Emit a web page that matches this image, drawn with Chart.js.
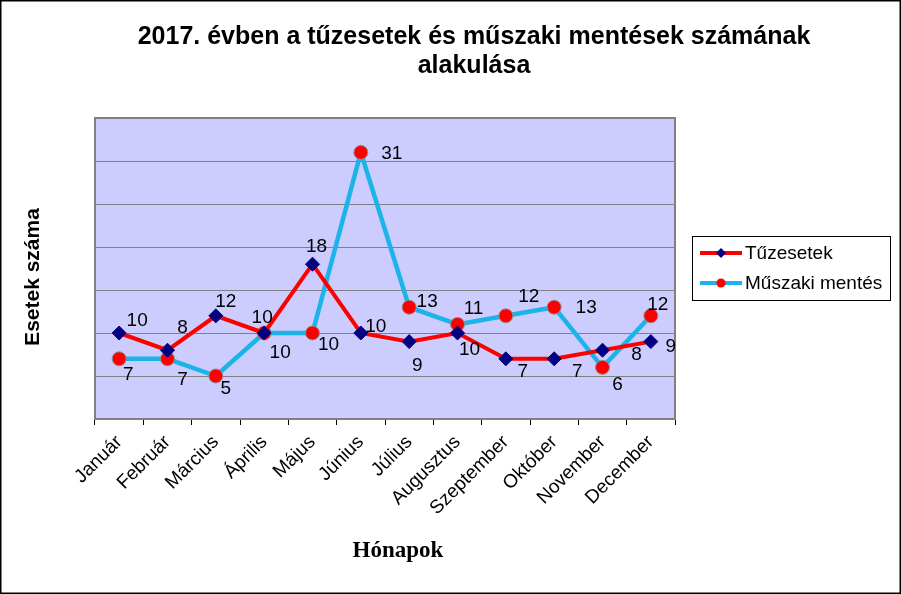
<!DOCTYPE html>
<html>
<head>
<meta charset="utf-8">
<script src="https://cdn.jsdelivr.net/npm/chart.js@4"></script>
<style>
    body { margin: 0; background: #fff; }
    canvas { display: block; }
</style>
</head>
<body>
<canvas id="myChart" width="901" height="594"></canvas>
<script>
// data
const months = ["Január", "Február", "Március", "Április", "Május", "Június",
    "Július", "Augusztus", "Szeptember", "Október", "November", "December"];
const fires = [10, 8, 12, 10, 18, 10, 9, 10, 7, 7, 8, 9];
const rescues = [7, 7, 5, 10, 10, 31, 13, 11, 12, 13, 6, 12];
const seriesNames = ["Tűzesetek", "Műszaki mentés"];
const yTicks = [0, 5, 10, 15, 20, 25, 30, 35];

const chartTitle = ["2017. évben a tűzesetek és műszaki mentések számának", "alakulása"];
const xTitle = "Hónapok";
const yTitle = "Esetek száma";

// where each value label sits relative to its point (dx, dy)
const fireLabelPos = [[18,-12],[15,-22],[10,-14],[-2,-15],[4,-17],[15,-6],[8,24],[12,17],[17,13],[23,13],[34,5],[20,5]];
const rescueLabelPos = [[9,16],[15,21],[10,13],[16,20],[16,12],[31,1],[18,-5],[16,-16],[23,-19],[32,1],[15,17],[7,-11]];

const fireColor = "#ff0000";
const rescueColor = "#1cb4e8";
const sans = "'Liberation Sans', Arial, sans-serif";

// background, plot frame, title, axis titles, legend, value labels
const decorations = {
    id: "decorations",
    beforeDraw(chart) {
        const ctx = chart.ctx;
        const a = chart.chartArea;
        ctx.save();
        ctx.fillStyle = "#ffffff";
        ctx.fillRect(0, 0, chart.width, chart.height);
        ctx.fillStyle = "#ccccff";
        ctx.fillRect(a.left, a.top, a.right - a.left, a.bottom - a.top);
        ctx.restore();
    },
    beforeDatasetsDraw(chart) {
        const ctx = chart.ctx;
        const a = chart.chartArea;
        ctx.save();
        ctx.strokeStyle = "#808080";
        ctx.lineWidth = 2;
        ctx.strokeRect(a.left, a.top, a.right - a.left, a.bottom - a.top);
        ctx.restore();
    },
    afterDatasetsDraw(chart) {
        const ctx = chart.ctx;
        ctx.save();
        ctx.font = "19px " + sans;
        ctx.fillStyle = "#000";
        ctx.textAlign = "center";
        ctx.textBaseline = "middle";
        const offsets = [fireLabelPos, rescueLabelPos];
        chart.data.datasets.forEach((ds, d) => {
            const meta = chart.getDatasetMeta(d);
            meta.data.forEach((pt, i) => {
                ctx.fillText(ds.data[i], pt.x + offsets[d][i][0], pt.y + offsets[d][i][1]);
            });
        });
        ctx.restore();
    },
    afterDraw(chart) {
        const ctx = chart.ctx;
        ctx.save();
        ctx.fillStyle = "#000";
        ctx.textAlign = "center";
        ctx.textBaseline = "middle";

        // title
        ctx.font = "bold 25px " + sans;
        ctx.fillText(chartTitle[0], 474, 37);
        ctx.fillText(chartTitle[1], 474, 66);

        // x axis title
        ctx.font = "bold 23px 'Liberation Serif', 'Times New Roman', serif";
        ctx.fillText(xTitle, 398, 551);

        // y axis title
        ctx.font = "bold 21px " + sans;
        ctx.save();
        ctx.translate(33, 277);
        ctx.rotate(-Math.PI / 2);
        ctx.fillText(yTitle, 0, 0);
        ctx.restore();

        // legend
        ctx.strokeStyle = "#000";
        ctx.lineWidth = 1;
        ctx.strokeRect(692.5, 236.5, 198, 64);
        ctx.font = "19px " + sans;
        ctx.textAlign = "left";
        const rows = [253, 283];
        chart.data.datasets.forEach((ds, d) => {
            const y = rows[d];
            ctx.strokeStyle = ds.borderColor;
            ctx.lineWidth = 4;
            ctx.beginPath();
            ctx.moveTo(700, y);
            ctx.lineTo(742, y);
            ctx.stroke();
            ctx.fillStyle = ds.pointBackgroundColor;
            ctx.beginPath();
            if (d === 0) {
                ctx.moveTo(721, y - 5);
                ctx.lineTo(726, y);
                ctx.lineTo(721, y + 5);
                ctx.lineTo(716, y);
                ctx.closePath();
            } else {
                ctx.arc(721, y, 4.5, 0, Math.PI * 2);
            }
            ctx.fill();
            ctx.fillStyle = "#000";
            ctx.fillText(seriesNames[d], 745, y + 1);
        });

        // outer frame
        ctx.strokeStyle = "#000";
        ctx.lineWidth = 1.5;
        ctx.strokeRect(0.75, 0.75, chart.width - 1.5, chart.height - 1.5);
        ctx.restore();
    }
};

new Chart("myChart", {
    type: "line",
    data: {
        labels: months,
        datasets: [
            {
                label: seriesNames[0],
                data: fires,
                borderColor: fireColor,
                borderWidth: 4,
                pointStyle: "rectRot",
                pointRadius: 7,
                pointBackgroundColor: "#000080",
                pointBorderColor: "#000080",
                pointBorderWidth: 1,
                tension: 0
            },
            {
                label: seriesNames[1],
                data: rescues,
                borderColor: rescueColor,
                borderWidth: 4.5,
                pointStyle: "circle",
                pointRadius: 7,
                pointBackgroundColor: "#ff0000",
                pointBorderColor: "#909090",
                pointBorderWidth: 1,
                tension: 0
            }
        ]
    },
    options: {
        responsive: false,
        animation: false,
        layout: { padding: { left: 95, top: 118, right: 226, bottom: 55 } },
        plugins: {
            legend: { display: false },
            title: { display: false },
            tooltip: { enabled: false }
        },
        scales: {
            x: {
                offset: true,
                afterFit: (s) => { s.height = 120; },
                grid: {
                    offset: true,
                    drawOnChartArea: false,
                    drawTicks: true,
                    tickLength: 6,
                    color: "#000"
                },
                border: { display: false },
                ticks: {
                    minRotation: 45,
                    maxRotation: 45,
                    padding: 6,
                    color: "#000",
                    font: { family: sans, size: 19 }
                }
            },
            y: {
                min: yTicks[0],
                max: yTicks[yTicks.length - 1],
                afterFit: (s) => { s.width = 0; },
                afterBuildTicks: (s) => { s.ticks = yTicks.map(v => ({ value: v })); },
                grid: { color: "#808080", lineWidth: 1, drawTicks: false },
                border: { display: false },
                ticks: { display: false }
            }
        }
    },
    plugins: [decorations]
});
</script>
</body>
</html>
